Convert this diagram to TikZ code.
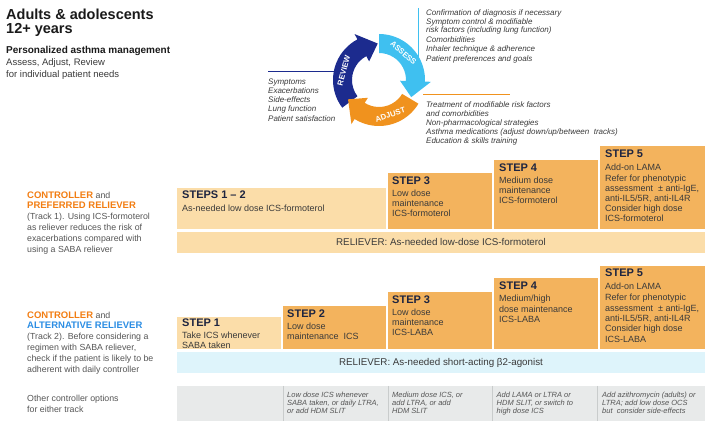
\documentclass[tikz,border=0pt]{standalone}
\usepackage{fontspec}
\setmainfont{Liberation Sans}
\usetikzlibrary{calc}
\definecolor{peachL}{HTML}{FBDDA9}
\definecolor{peachD}{HTML}{F3B35D}
\definecolor{relblue}{HTML}{DEF4FB}
\definecolor{optgrey}{HTML}{E8EAEA}
\definecolor{sepgrey}{HTML}{C9CCCC}
\definecolor{navy}{HTML}{1C2B8E}
\definecolor{sky}{HTML}{3FC0F0}
\definecolor{orng}{HTML}{F0921E}
\definecolor{ctrlorange}{HTML}{F27D12}
\definecolor{altblue}{HTML}{2B8DE3}
\definecolor{bodytxt}{HTML}{3A3A3A}
\definecolor{headtxt}{HTML}{1E2540}
\definecolor{lbltxt}{HTML}{555555}
\definecolor{titletxt}{HTML}{1A1A1A}
\begin{document}
\begin{tikzpicture}[x=1pt,y=-1pt,
  box/.style={draw=none, inner sep=0, outer sep=0, anchor=north west},
  hd/.style={anchor=base west, inner sep=0, font=\bfseries\fontsize{11}{11}\selectfont, text=headtxt},
  bd/.style={anchor=north west, inner sep=0, align=left, font=\fontsize{9}{10}\selectfont, text=bodytxt},
  rel/.style={anchor=base, inner sep=0, font=\fontsize{9.8}{10}\selectfont, text=bodytxt},
  cyclist/.style={anchor=north west, inner sep=0, align=left, font=\itshape\fontsize{8}{9.3}\selectfont, text=bodytxt},
  optxt/.style={anchor=north west, inner sep=0, align=left, font=\itshape\fontsize{7.5}{7.6}\selectfont, text=lbltxt},
  lbl/.style={anchor=north west, inner sep=0, align=left, font=\fontsize{8.8}{10.8}\selectfont, text=lbltxt},
  cyc/.style={inner sep=0, font=\bfseries\fontsize{7.8}{7.8}\selectfont, text=white},
  sep/.style={draw=sepgrey, line width=0.8pt}
]
\useasboundingbox (0,0) rectangle (710,427);

% ---------- title block ----------
\node[anchor=base west, inner sep=0, font=\bfseries\fontsize{14.5}{14.5}\selectfont, text=titletxt] (title1) at (6,19.5) {Adults \& adolescents};
\node[anchor=base west, inner sep=0, font=\bfseries\fontsize{14.5}{14.5}\selectfont, text=titletxt] (title2) at (6,34) {12+ years};
\node[anchor=base west, inner sep=0, font=\bfseries\fontsize{10}{10}\selectfont, text=titletxt] (sub1) at (6,54) {Personalized asthma management};
\node[anchor=base west, inner sep=0, font=\fontsize{9.5}{9.5}\selectfont, text=bodytxt] (sub2) at (6,66) {Assess, Adjust, Review};
\node[anchor=base west, inner sep=0, font=\fontsize{9.5}{9.5}\selectfont, text=bodytxt] (sub3) at (6,77.5) {for individual patient needs};

% ---------- cycle lines ----------
\coordinate (navyA) at (268,71);
\coordinate (navyB) at (337,71);
\coordinate (skyA) at (418,8);
\coordinate (skyB) at (418,70);
\coordinate (orA) at (423,94);
\coordinate (orB) at (510,94);
\draw[navy, line width=0.8pt] (navyA) -- (navyB);
\draw[sky, line width=0.8pt] (skyA) -- (skyB);
\draw[orng, line width=0.8pt] (orA) -- (orB);

% ---------- cycle arrows ----------
\begin{scope}[shift={(379,80)}]
\fill[navy] (217:46pt) arc[start angle=217, end angle=118, radius=46pt] -- (118:52pt) -- (92:36.5pt) -- (118:21pt) -- (118:27pt) arc[start angle=118, end angle=217, radius=27pt] -- cycle;
\fill[sky] (90:46pt) arc[start angle=90, end angle=-2, radius=46pt] -- (-2:52pt) -- (-28:36.5pt) -- (-2:21pt) -- (-2:27pt) arc[start angle=-2, end angle=90, radius=27pt] -- cycle;
\fill[orng] (-31:46pt) arc[start angle=-31, end angle=-122, radius=46pt] -- (-122:52pt) -- (-148:36.5pt) -- (-122:21pt) -- (-122:27pt) arc[start angle=-122, end angle=-31, radius=27pt] -- cycle;
\node[cyc, rotate=75] (revlbl) at (165:36.5pt) {REVIEW};
\node[cyc, rotate=-42] (asslbl) at (48:36.5pt) {ASSESS};
\node[cyc, rotate=18] (adjlbl) at (-72:36.5pt) {ADJUST};
\end{scope}

% ---------- cycle texts ----------
\node[cyclist] (revlist) at (268,78.3) {Symptoms\\Exacerbations\\Side-effects\\Lung function\\Patient satisfaction};
\node[cyclist] (asslist) at (426,9.3) {Confirmation of diagnosis if necessary\\Symptom control \& modifiable\\[-1.1pt]risk factors (including lung function)\\[0.6pt]Comorbidities\\Inhaler technique \& adherence\\Patient preferences and goals};
\node[cyclist, font=\itshape\fontsize{8}{9}\selectfont] (adjlist) at (426,101.3) {Treatment of modifiable risk factors\\and comorbidities\\Non-pharmacological strategies\\Asthma medications (adjust down/up/between\ \ tracks)\\Education \& skills training};

% ---------- track labels ----------
\node[lbl] (trk1) at (27,191.2) {{\bfseries\fontsize{9.5}{10.8}\selectfont\color{ctrlorange}CONTROLLER} and\\{\bfseries\fontsize{9.5}{10.8}\selectfont\color{ctrlorange}PREFERRED RELIEVER}\\(Track 1). Using ICS-formoterol\\as reliever reduces the risk of\\exacerbations compared with\\using a SABA reliever};
\node[lbl] (trk2) at (27,311.2) {{\bfseries\fontsize{9.5}{10.8}\selectfont\color{ctrlorange}CONTROLLER} and\\{\bfseries\fontsize{9.5}{10.8}\selectfont\color{altblue}ALTERNATIVE RELIEVER}\\(Track 2). Before considering a\\regimen with SABA reliever,\\check if the patient is likely to be\\adherent with daily controller};
\node[lbl] (othr) at (27,395) {Other controller options\\for either track};

% ---------- track 1 ----------
\node[box, fill=peachL, minimum width=209pt, minimum height=41pt] (t1s12) at (177,188) {};
\node[hd] (t1s12h) at ([xshift=5pt,yshift=-11pt]t1s12.north west) {STEPS 1 – 2};
\node[bd] (t1s12b) at ([yshift=-5.5pt]t1s12h.base west) {As-needed low dose ICS-formoterol};

\node[box, fill=peachD, minimum width=104pt, minimum height=56pt] (t1s3) at (388,173) {};
\node[hd] (t1s3h) at ([xshift=4pt,yshift=-12pt]t1s3.north west) {STEP 3};
\node[bd] (t1s3b) at ([yshift=-4.5pt]t1s3h.base west) {Low dose\\maintenance\\ICS-formoterol};

\node[box, fill=peachD, minimum width=104pt, minimum height=69pt] (t1s4) at (494,160) {};
\node[hd] (t1s4h) at ([xshift=5pt,yshift=-12pt]t1s4.north west) {STEP 4};
\node[bd] (t1s4b) at ([yshift=-4.5pt]t1s4h.base west) {Medium dose\\maintenance\\ICS-formoterol};

\node[box, fill=peachD, minimum width=105pt, minimum height=83pt] (t1s5) at (600,146) {};
\node[hd] (t1s5h) at ([xshift=5pt,yshift=-12pt]t1s5.north west) {STEP 5};
\node[bd] (t1s5b) at ([yshift=-5.5pt]t1s5h.base west) {Add-on LAMA\\[1.5pt]Refer for phenotypic\\assessment \ ± anti-IgE,\\anti-IL5/5R, anti-IL4R\\Consider high dose\\ICS-formoterol};

\node[box, fill=peachL, minimum width=528pt, minimum height=21pt] (t1rel) at (177,232) {};
\node[rel] (t1relt) at (441,246) {RELIEVER: As-needed low-dose ICS-formoterol};

% ---------- track 2 ----------
\node[box, fill=peachL, minimum width=104pt, minimum height=32pt] (t2s1) at (177,317) {};
\node[hd] (t2s1h) at ([xshift=5pt,yshift=-10pt]t2s1.north west) {STEP 1};
\node[bd, font=\fontsize{9}{9.3}\selectfont] (t2s1b) at ([yshift=-5pt]t2s1h.base west) {Take ICS whenever\\SABA taken};

\node[box, fill=peachD, minimum width=103pt, minimum height=43pt] (t2s2) at (283,306) {};
\node[hd] (t2s2h) at ([xshift=4pt,yshift=-11.5pt]t2s2.north west) {STEP 2};
\node[bd] (t2s2b) at ([yshift=-5.5pt]t2s2h.base west) {Low dose\\maintenance\ \ ICS};

\node[box, fill=peachD, minimum width=104pt, minimum height=57pt] (t2s3) at (388,292) {};
\node[hd] (t2s3h) at ([xshift=4pt,yshift=-12pt]t2s3.north west) {STEP 3};
\node[bd] (t2s3b) at ([yshift=-5pt]t2s3h.base west) {Low dose\\maintenance\\ICS-LABA};

\node[box, fill=peachD, minimum width=104pt, minimum height=71pt] (t2s4) at (494,278) {};
\node[hd] (t2s4h) at ([xshift=5pt,yshift=-12pt]t2s4.north west) {STEP 4};
\node[bd, font=\fontsize{9}{10.5}\selectfont] (t2s4b) at ([yshift=-5pt]t2s4h.base west) {Medium/high\\dose maintenance\\ICS-LABA};

\node[box, fill=peachD, minimum width=105pt, minimum height=83pt] (t2s5) at (600,266) {};
\node[hd] (t2s5h) at ([xshift=5pt,yshift=-11pt]t2s5.north west) {STEP 5};
\node[bd, font=\fontsize{9}{10.4}\selectfont] (t2s5b) at ([yshift=-5.5pt]t2s5h.base west) {Add-on LAMA\\[1pt]Refer for phenotypic\\assessment \ ± anti-IgE,\\anti-IL5/5R, anti-IL4R\\Consider high dose\\ICS-LABA};

\node[box, fill=relblue, minimum width=528pt, minimum height=21pt] (t2rel) at (177,352) {};
\node[rel] (t2relt) at (441,366) {RELIEVER: As-needed short-acting β2-agonist};

% ---------- other options row ----------
\node[box, fill=optgrey, minimum width=528pt, minimum height=35pt] (opt) at (177,386) {};
\coordinate (s1t) at (283,386); \coordinate (s1b) at (283,421);
\coordinate (s2t) at (388,386); \coordinate (s2b) at (388,421);
\coordinate (s3t) at (492,386); \coordinate (s3b) at (492,421);
\coordinate (s4t) at (597,386); \coordinate (s4b) at (597,421);
\draw[sep] (s1t) -- (s1b);
\draw[sep] (s2t) -- (s2b);
\draw[sep] (s3t) -- (s3b);
\draw[sep] (s4t) -- (s4b);
\node[optxt] (o2) at (287,392.3) {Low dose ICS whenever\\SABA taken, or daily LTRA,\\or add HDM SLIT};
\node[optxt] (o3) at (392,392.3) {Medium dose ICS, or\\add LTRA, or add\\HDM SLIT};
\node[optxt] (o4) at (496.5,392.3) {Add LAMA or LTRA or\\HDM SLIT, or switch to\\high dose ICS};
\node[optxt] (o5) at (602,392.3) {Add azithromycin (adults) or\\LTRA; add low dose OCS\\but\ \ consider side-effects};
\end{tikzpicture}
\end{document}
